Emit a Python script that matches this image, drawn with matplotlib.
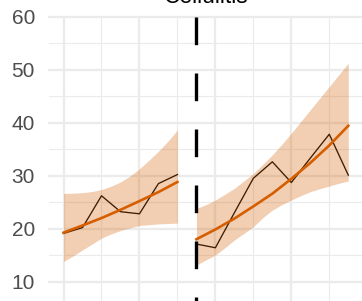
import matplotlib
matplotlib.use("Agg")
import matplotlib.pyplot as plt

# ---- data ----
idx_pre = [0, 1, 2, 3, 4, 5, 6]
idx_post = [7, 8, 9, 10, 11, 12, 13, 14, 15]
obs_pre = [19.1, 20.2, 26.2, 23.2, 22.8, 28.5, 30.2]
obs_post = [17.1, 16.4, 23.0, 29.5, 32.6, 28.7, 33.3, 37.8, 30.1]
fit_pre = [19.25, 20.6, 22.0, 23.55, 25.2, 26.9, 28.8]
fit_post = [18.0, 19.85, 21.9, 24.2, 26.6, 29.4, 32.4, 35.7, 39.4]

# confidence band, read at half-step positions
band_idx_pre = [0, 0.5, 1, 1.5, 2, 2.5, 3, 3.5, 4, 4.5, 5, 5.5, 6]
lo_pre = [13.8, 14.85, 16.0, 17.1, 18.2, 19.0, 19.65, 20.13, 20.6, 20.75, 20.9, 20.97, 21.05]
hi_pre = [26.65, 26.68, 26.78, 27.0, 27.38, 28.0, 28.8, 29.9, 31.3, 32.9, 34.6, 36.5, 38.6]
band_idx_post = [7, 7.5, 8, 8.5, 9, 9.5, 10, 10.5, 11, 11.5, 12, 12.5, 13, 13.5, 14, 14.5, 15]
lo_post = [13.15, 14.1, 15.03, 16.4, 17.86, 19.1, 20.37, 22.07, 23.5, 24.52, 25.4, 26.22,
           26.97, 27.54, 28.04, 28.55, 28.98]
hi_post = [23.8, 24.52, 25.4, 26.48, 27.6, 28.98, 30.4, 32.13, 33.9, 35.9, 38.0, 40.2,
           42.4, 44.6, 46.8, 49.0, 51.2]

intervention = 7
title = "Cellulitis"
y_ticks = [10, 20, 30, 40, 50, 60]

W, H = 362, 301
fig = plt.figure(figsize=(W / 100, H / 100), dpi=100)
fig.patch.set_facecolor("white")

# axes geometry in pixels
left_px, right_px = 49.3, 362.5
top_px = 16.5
px_per_unit = 5.304
ymin, ymax = 0, 60
bottom_px = top_px + (ymax - ymin) * px_per_unit
ax = fig.add_axes([left_px / W, 1 - bottom_px / H,
                   (right_px - left_px) / W, (bottom_px - top_px) / H])
ax.set_xlim(-0.75, 15.75)
ax.set_ylim(ymin, ymax)
for s in ax.spines.values():
    s.set_visible(False)

grid_c = "#EBEBEB"
for v in [0, 4, 8, 12]:
    ax.axvline(v, color=grid_c, lw=1.65, zorder=0)
for v in [2, 6, 10, 14]:
    ax.axvline(v, color=grid_c, lw=0.85, zorder=0)
for v in [0, 10, 20, 30, 40, 50, 60]:
    ax.axhline(v, color=grid_c, lw=1.65, zorder=0, clip_on=False)
for v in [5, 15, 25, 35, 45, 55]:
    ax.axhline(v, color=grid_c, lw=0.85, zorder=0)

ax.plot(idx_pre, obs_pre, color="black", lw=0.95, zorder=2)
ax.plot(idx_post, obs_post, color="black", lw=0.95, zorder=2)

orange = "#D55E00"
ax.fill_between(band_idx_pre, lo_pre, hi_pre, color=orange, alpha=0.3, lw=0, zorder=3)
ax.fill_between(band_idx_post, lo_post, hi_post, color=orange, alpha=0.3, lw=0, zorder=3)
ax.plot(idx_pre, fit_pre, color=orange, lw=1.9, zorder=4)
ax.plot(idx_post, fit_post, color=orange, lw=1.9, zorder=4)

ln, = ax.plot([intervention, intervention], [ymax, ymin], color="black",
              lw=2.4, zorder=5, solid_capstyle="butt", dash_capstyle="butt")
ln.set_dashes([8.3, 8.5])

ax.set_xticks([])
ax.set_yticks(y_ticks)
ax.set_yticklabels([str(t) for t in y_ticks])
ax.tick_params(axis="y", length=0, pad=10.3, labelsize=15, labelcolor="#4D4D4D")
for lab in ax.get_yticklabels():
    lab.set_fontfamily("Liberation Sans")

fig.text(206.5 / W, 1 - 3.3 / H, title, ha="center", va="baseline",
         fontsize=16.5, family="Liberation Sans", color="black")

fig.savefig("out.png", dpi=100, facecolor="white")
